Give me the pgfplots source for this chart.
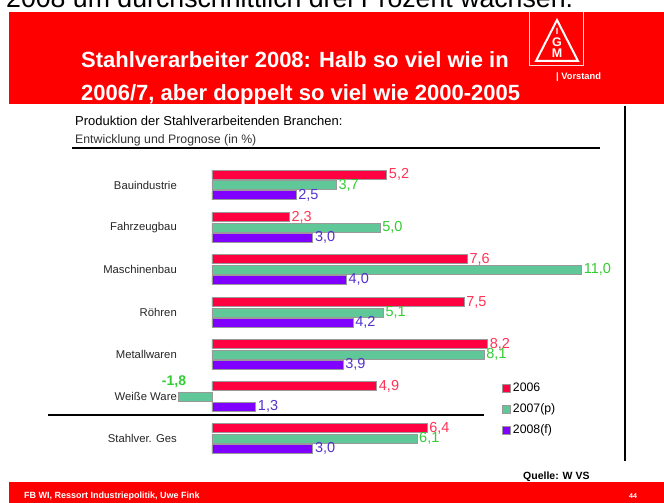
\documentclass[border=0pt]{standalone}
\usepackage{pgfplots}
\usepackage{pgfplotstable}
\usepackage{fontspec}
\setmainfont{Liberation Sans}
\pgfplotsset{compat=1.18}
\definecolor{hdr}{HTML}{FF0000}
\definecolor{cA}{HTML}{FF0040}
\definecolor{cB}{HTML}{60C898}
\definecolor{cC}{HTML}{8000FF}
\definecolor{lA}{HTML}{FF3355}
\definecolor{lB}{HTML}{33CC33}
\definecolor{lC}{HTML}{5533CC}
\newcommand{\fs}[1]{\fontsize{#1}{#1}\selectfont}
\pgfplotstableread{
y v lab
185 5.2 5,2
227.5 2.3 2,3
269.5 7.6 7,6
312.5 7.5 7,5
354.5 8.2 8,2
396.5 4.9 4,9
438.5 6.4 6,4
}\tA
\pgfplotstableread{
y v lab
185 3.7 3,7
227.5 5.0 5,0
269.5 11.0 11,0
312.5 5.1 5,1
354.5 8.1 8,1
438.5 6.1 6,1
}\tB
\pgfplotstableread{
y v lab
396.5 -1.01 -1,8
}\tBneg
\pgfplotstableread{
y v lab
185 2.5 2,5
227.5 3.0 3,0
269.5 4.0 4,0
312.5 4.2 4,2
354.5 3.9 3,9
396.5 1.3 1,3
438.5 3.0 3,0
}\tC
\begin{document}
\begin{tikzpicture}
\begin{scope}[x=1pt,y=-1pt]
\useasboundingbox (0,0) rectangle (664,503);
\fill[white] (0,0) rectangle (664,503);
\node[anchor=base west,inner sep=0,black] at (6,8) {\fs{26.7}2008 um durchschnittlich drei Prozent wachsen.};
\fill[hdr] (9,12) rectangle (664,104);
\node[anchor=base west,inner sep=0,white] at (81,67) {\fs{22}\bfseries Stahlverarbeiter 2008: Halb so viel wie in};
\node[anchor=base west,inner sep=0,white] at (81,100) {\fs{22}\bfseries 2006/7, aber doppelt so viel wie 2000-2005};
\node[anchor=base west,inner sep=0,white] at (556,79.5) {\fs{9.3}\bfseries | Vorstand};
% logo
\draw[white!85!red,line width=0.9pt] (529.5,12) -- (529.5,65) -- (583,65) -- (583,12);
\draw[white,line width=2pt,line join=miter] (557,20) -- (578,61) -- (536,61) -- cycle;
\node[white,inner sep=0] at (557,31) {\fs{9}\bfseries I};
\node[white,inner sep=0] at (557,42) {\fs{12.5}\bfseries G};
\node[white,inner sep=0] at (557,53.5) {\fs{12.5}\bfseries M};
% subtitle
\node[anchor=base west,inner sep=0,black] at (75,125) {\fs{13}Produktion der Stahlverarbeitenden Branchen:};
\node[anchor=base west,inner sep=0,black!80] at (75,143) {\fs{12.3}Entwicklung und Prognose (in \%)};
\draw[black,line width=1.6pt] (72,148) -- (600,148);
\draw[black,line width=2.4pt] (625,106) -- (625,461);
\end{scope}
\begin{axis}[
  at={(178pt,-160pt)},anchor=north west,
  scale only axis,width=403.5pt,height=300pt,
  xmin=-1.01,xmax=11,ymin=160,ymax=460,
  y dir=reverse,
  axis line style={draw=none},
  xtick=\empty,
  ytick={185,227.5,269.5,312.5,354.5,396.5,438.5},
  yticklabels={Bauindustrie,Fahrzeugbau,Maschinenbau,Röhren,Metallwaren,Weiße Ware,Stahlver. Ges},
  major tick length=0pt,
  yticklabel style={font=\fs{11.3},text=black!85,inner sep=1pt},
  clip=false,
  xbar,
  bar width=9pt,
  every axis plot/.append style={draw=black!40,line width=0.7pt},
  nodes near coords,
  point meta=explicit symbolic,
  nodes near coords style={font=\fs{14.5},inner sep=2pt,anchor=west},
  legend style={at={(axis cs:8.62,381)},anchor=north west,draw=none,fill=none,font=\fs{12.3},row sep=6.5pt,inner sep=0pt},
  legend cell align=left,
  legend image code/.code={\draw[draw=black!40,line width=0.7pt,#1] (0pt,-4pt) rectangle (8.5pt,4pt);},
]
\addplot[fill=cA,bar shift=10.3pt,nodes near coords style={text=lA}] table[x=v,y=y,meta=lab] {\tA};
\addlegendentry{2006}
\addplot[fill=cB,bar shift=0pt,nodes near coords style={text=lB}] table[x=v,y=y,meta=lab] {\tB};
\addlegendentry{2007(p)}
\addplot[fill=cC,bar shift=-10.3pt,nodes near coords style={text=lC}] table[x=v,y=y,meta=lab] {\tC};
\addlegendentry{2008(f)}
\addplot[forget plot,fill=cB,bar shift=0pt,nodes near coords style={text=lB,font=\fs{14}\bfseries,anchor=center,xshift=-4pt,yshift=14.5pt}] table[x=v,y=y,meta=lab] {\tBneg};
\end{axis}
\begin{scope}[x=1pt,y=-1pt]
\draw[black,line width=1.6pt] (48,415) -- (484,415);
\node[anchor=base west,inner sep=0,black] at (523,479) {\fs{10.5}\bfseries Quelle: W VS};
\fill[hdr] (9,482) rectangle (664,503);
\node[anchor=base west,inner sep=0,white] at (24,498.5) {\fs{9}\bfseries FB WI, Ressort Industriepolitik, Uwe Fink};
\node[anchor=base,inner sep=0,white] at (633,498) {\fs{7}\bfseries 44};
\end{scope}
\end{tikzpicture}
\end{document}
